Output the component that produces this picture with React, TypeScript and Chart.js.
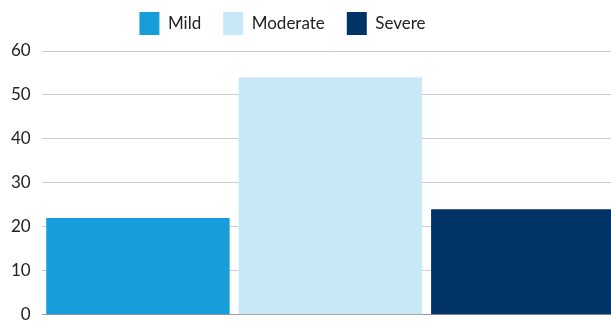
import React, { useEffect, useRef } from "react";
import { Chart, registerables } from "chart.js";

Chart.register(...registerables);

const categories = [""];
const seriesNames = ["Mild", "Moderate", "Severe"];
const seriesValues = [[22], [54], [24]];
const seriesColors = ["#179dd9", "#c7e8f7", "#003466"];
const yTicks = { min: 0, max: 60, step: 10 };

const CANVAS_W = 619;
const CANVAS_H = 346;
const CANVAS_LIFT = 10;
const LEGEND_SHIFT = 27;
const LEGEND_EXTRA_HEIGHT = 6;

// Moves the legend block left of the canvas centre and leaves a bit more room under it.
const legendTweak = {
  id: "legendTweak",
  beforeLayout(chart: any) {
    const lg = chart.legend;
    if (lg && !lg.__tweaked) {
      const fit = lg.fit.bind(lg);
      lg.fit = () => {
        fit();
        lg.height += LEGEND_EXTRA_HEIGHT;
      };
      lg.__tweaked = true;
    }
  },
  afterLayout(chart: any) {
    const lg = chart.legend;
    if (lg) {
      lg.left -= LEGEND_SHIFT;
      lg.right -= LEGEND_SHIFT;
    }
  },
};

export default function App() {
  const ref = useRef<HTMLCanvasElement | null>(null);

  useEffect(() => {
    document.body.style.margin = "0";
    const canvas = ref.current;
    if (!canvas) return;
    const chart = new Chart(canvas, {
      type: "bar",
      data: {
        labels: categories,
        datasets: seriesNames.map((name, i) => ({
          label: name,
          data: seriesValues[i],
          backgroundColor: seriesColors[i],
          borderWidth: 0,
          categoryPercentage: 1,
          barPercentage: 0.953,
        })),
      },
      options: {
        animation: false,
        responsive: false,
        maintainAspectRatio: false,
        layout: { padding: 0 },
        plugins: {
          tooltip: { enabled: false },
          legend: {
            position: "top",
            labels: {
              boxWidth: 20,
              boxHeight: 23,
              padding: 22,
              color: "#222222",
              font: { family: "Lato", size: 17 },
            },
          },
        },
        scales: {
          x: {
            display: false,
            offset: true,
          },
          y: {
            min: yTicks.min,
            max: yTicks.max,
            ticks: {
              stepSize: yTicks.step,
              color: "#222222",
              padding: 11,
              font: { family: "Lato", size: 17 },
            },
            border: { display: false },
            grid: {
              color: (ctx: any) => (ctx.tick && ctx.tick.value === 0 ? "#999999" : "#cccccc"),
              drawTicks: false,
            },
          },
        },
      },
      plugins: [legendTweak],
    });
    return () => chart.destroy();
  }, []);

  return (
    <div style={{ width: 611, height: 322, overflow: "hidden" }}>
      <canvas
        ref={ref}
        width={CANVAS_W}
        height={CANVAS_H}
        style={{ display: "block", marginTop: -CANVAS_LIFT }}
      />
    </div>
  );
}
